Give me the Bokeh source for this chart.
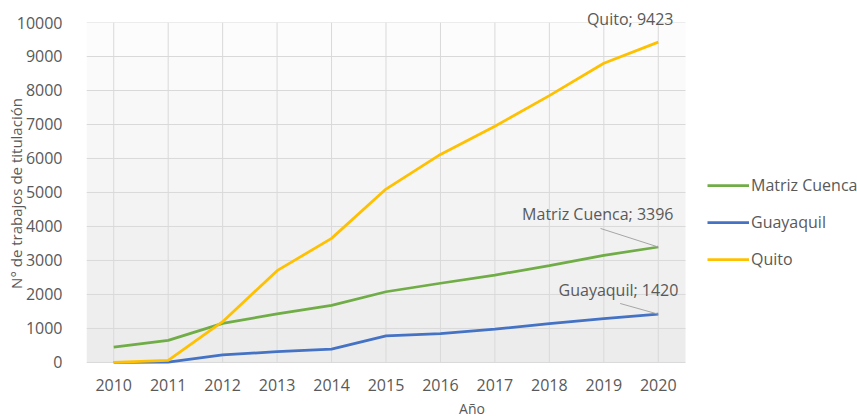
from bokeh.plotting import figure
from bokeh.models import Range1d, FixedTicker, Legend, LegendItem, Label, Title, BoxAnnotation
from bokeh.embed import file_html
from bokeh.resources import INLINE

years = [2010, 2011, 2012, 2013, 2014, 2015, 2016, 2017, 2018, 2019, 2020]
matriz_cuenca = [450, 650, 1150, 1430, 1680, 2080, 2330, 2570, 2850, 3150, 3396]
guayaquil = [0, 10, 220, 320, 390, 780, 850, 980, 1140, 1290, 1420]
quito = [0, 60, 1200, 2700, 3650, 5100, 6120, 6950, 7850, 8800, 9423]
y_ticks = [0, 1000, 2000, 3000, 4000, 5000, 6000, 7000, 8000, 9000, 10000]

FONT = "Open Sans"
TXT = "#595959"
C_GREEN = "#70ad47"
C_BLUE = "#4472c4"
C_YELLOW = "#ffc000"
GRID = "#d9d9d9"

W, H = 857, 420
LEFT, RIGHT_PLOT, TOP, BOTTOM = 86, 685, 22, 56
x0 = years[0] - 0.5
x1 = years[-1] + 0.5
px_per_year = (RIGHT_PLOT - LEFT) / (x1 - x0)
x_end = x0 + (W - LEFT) / px_per_year   # frame extends to the right edge so the legend is inside it

p = figure(width=W, height=H, output_backend="svg", toolbar_location=None,
           x_range=Range1d(x0, x_end), y_range=Range1d(-60, 10000),
           min_border_left=LEFT, min_border_right=0, min_border_top=TOP, min_border_bottom=BOTTOM)
p.outline_line_color = None
p.background_fill_color = "white"
p.border_fill_color = "white"

# plot-area gradient (light at top, grey at bottom)
n = len(y_ticks) - 1
for i in range(n):
    v = int(round(0xeb + (0xfd - 0xeb) * (i + 0.5) / n))
    col = "#%02x%02x%02x" % (v, v, v)
    p.add_layout(BoxAnnotation(left=x0, right=x1, bottom=y_ticks[i], top=y_ticks[i + 1],
                               fill_color=col, fill_alpha=1, line_color=None, level="image"))

p.xaxis.ticker = FixedTicker(ticks=years)
p.yaxis.ticker = FixedTicker(ticks=y_ticks)
for ax in (p.xaxis[0], p.yaxis[0]):
    ax.axis_line_color = None
    ax.major_tick_line_color = None
    ax.minor_tick_line_color = None
    ax.major_label_text_color = TXT
    ax.major_label_text_font = FONT
    ax.major_label_text_font_size = "16px"
    ax.axis_label_text_color = TXT
    ax.axis_label_text_font = FONT
    ax.axis_label_text_font_style = "normal"
p.xaxis.axis_label = "Año"
p.yaxis.axis_label = "N° de trabajos de titulación"
p.xaxis.axis_label_text_font_size = "14px"
p.yaxis.axis_label_text_font_size = "15px"
p.xaxis.major_label_standoff = 8
p.yaxis.major_label_standoff = 18
p.xaxis.axis_label_standoff = 5
p.yaxis.axis_label_standoff = -12
p.xgrid.visible = False
p.ygrid.visible = False

# grid lines limited to the plot area
p.segment(x0=years, y0=[y_ticks[0]] * len(years), x1=years, y1=[y_ticks[-1]] * len(years),
          line_color=GRID, line_width=1, level="underlay")
p.segment(x0=[x0] * len(y_ticks), y0=y_ticks, x1=[x1] * len(y_ticks), y1=y_ticks,
          line_color=GRID, line_width=1, level="underlay")

r_m = p.line(years, matriz_cuenca, line_color=C_GREEN, line_width=2.75)
r_g = p.line(years, guayaquil, line_color=C_BLUE, line_width=2.75)
r_q = p.line(years, quito, line_color=C_YELLOW, line_width=2.75)

legend = Legend(items=[LegendItem(label="Matriz Cuenca", renderers=[r_m]),
                       LegendItem(label="Guayaquil", renderers=[r_g]),
                       LegendItem(label="Quito", renderers=[r_q])],
                location=(621, 94), background_fill_alpha=0, border_line_color=None,
                label_text_font=FONT, label_text_font_size="16px", label_text_color=TXT,
                glyph_width=42, glyph_height=20, label_height=20, label_standoff=2,
                spacing=15, padding=0, margin=0)
p.add_layout(legend)

last = len(years) - 1
# top data label placed in the top border so it is not clipped
p.add_layout(Title(text=f"Quito; {quito[last]}", align="right", offset=W - 673, standoff=-14,
                   text_font=FONT, text_font_size="16px", text_color=TXT,
                   text_font_style="normal"), "above")

lbl_m = Label(x=years[last] + 0.28, y=matriz_cuenca[last] + 957, text=f"Matriz Cuenca; {matriz_cuenca[last]}",
              text_align="right", text_baseline="middle", text_font=FONT,
              text_font_size="16px", text_color=TXT)
lbl_g = Label(x=years[last] + 0.37, y=guayaquil[last] + 700, text=f"Guayaquil; {guayaquil[last]}",
              text_align="right", text_baseline="middle", text_font=FONT,
              text_font_size="16px", text_color=TXT)
p.add_layout(lbl_m)
p.add_layout(lbl_g)

p.segment(x0=[years[last] - 1.06, years[last] - 0.7],
          y0=[matriz_cuenca[last] + 545, guayaquil[last] + 315],
          x1=[years[last], years[last]],
          y1=[matriz_cuenca[last], guayaquil[last]],
          line_color="#a6a6a6", line_width=1)

open("out.html", "w").write(file_html(p, INLINE))
